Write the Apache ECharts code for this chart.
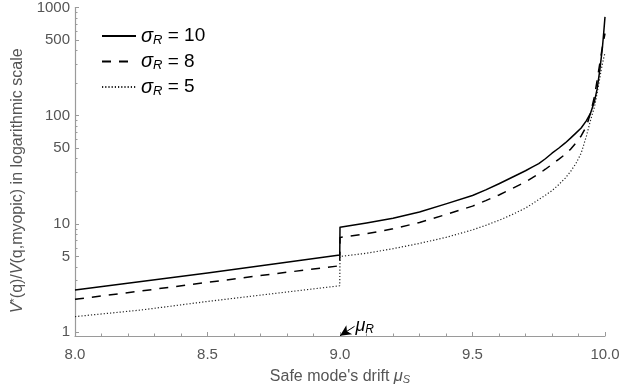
<!DOCTYPE html>
<html><head><meta charset="utf-8">
<script src="https://cdn.jsdelivr.net/npm/echarts@6/dist/echarts.min.js"></script>
<style>html,body{margin:0;padding:0;background:#fff}#c{width:623px;height:390px}</style>
</head><body><div id="c"></div>
<script>
// ---- data ----
const xs = [8.0, 8.25, 8.5, 8.75, 8.999, 9.0, 9.1, 9.2, 9.3, 9.4, 9.5, 9.55, 9.6, 9.65, 9.7, 9.725, 9.75, 9.775, 9.8, 9.825, 9.85, 9.87, 9.89, 9.91, 9.93, 9.945, 9.96, 9.97, 9.98, 9.985, 9.99, 9.995, 10.0];
const ys10 = [2.45, 2.93, 3.52, 4.25, 5.15, 9.3, 10.2, 11.3, 12.9, 15.3, 18.3, 20.6, 23.5, 27, 31, 33.5, 36, 40, 45, 50, 56, 62, 69, 77, 90, 105, 135, 175, 260, 330, 420, 580, 820];
const ys8 = [2.01, 2.40, 2.88, 3.45, 4.1, 7.5, 8.1, 9.0, 10.3, 12.2, 14.6, 16.4, 18.5, 21.2, 24.5, 26.6, 29, 32, 35.5, 39.5, 44, 49, 56, 65, 80, 105, 150, 210, 300, 360, 430, 500, 575];
const ys5 = [1.39, 1.60, 1.92, 2.27, 2.68, 5.0, 5.35, 5.9, 6.6, 7.5, 8.8, 9.7, 10.8, 12.2, 14.0, 15.3, 16.8, 18.4, 20.3, 23, 26.5, 30.5, 36, 45, 65, 90, 120, 160, 220, 260, 300, 340, 380];
const seriesNames = ['σR = 10', 'σR = 8', 'σR = 5'];
const yTickLabels = [1, 5, 10, 50, 100, 500, 1000];
const yMinorTicks = [2,3,4,6,7,8,9,20,30,40,60,70,80,90,200,300,400,600,700,800,900];
const muR = 9.0;

const zip = (a, b) => a.map((v, i) => [v, b[i]]);
const FONT = '"Liberation Sans", Arial, sans-serif';
const chart = echarts.init(document.getElementById('c'), null, {renderer: 'canvas'});
const axisCol = '#9a9a9a', labCol = '#555';

const option = {
  animation: false,
  backgroundColor: '#fff',
  grid: {left: 75, right: 18, top: 7, bottom: 53, containLabel: false},
  legend: {
    orient: 'vertical', left: 96, top: 21, itemWidth: 34, itemHeight: 12, itemGap: 5,
    data: seriesNames,
    itemStyle: {opacity: 0},
    formatter: n => { const p = n.split('R'); return '{s|σ}{r|R}{t|' + p[1] + '}'; },
    textStyle: {fontFamily: FONT, color: '#000', fontSize: 19,
      rich: {s: {fontStyle: 'italic', fontSize: 20, fontFamily: FONT, color: '#000'},
             r: {fontStyle: 'italic', fontSize: 13, verticalAlign: 'bottom', padding: [8,0,0,0], fontFamily: FONT, color: '#000'},
             t: {fontSize: 19, fontFamily: FONT, color: '#000'}}}
  },
  xAxis: {
    type: 'value', min: 8, max: 10, interval: 0.5,
    axisLine: {onZero: false, lineStyle: {color: axisCol, width: 1.2}},
    axisTick: {inside: true, length: 4, lineStyle: {color: axisCol}},
    minorTick: {show: true, splitNumber: 5, length: 2.5, lineStyle: {color: axisCol}},
    splitLine: {show: false},
    axisLabel: {formatter: v => v.toFixed(1), color: labCol, fontSize: 15, fontFamily: FONT, margin: 11},
    name: '{a|Safe mode\'s drift }{m|μ}{s|S}', nameLocation: 'middle', nameGap: 32,
    nameTextStyle: {rich: {a: {fontSize: 16, color: labCol, fontFamily: FONT},
      m: {fontSize: 16.5, fontStyle: 'italic', color: labCol, fontFamily: FONT},
      s: {fontSize: 11, fontStyle: 'italic', color: labCol, fontFamily: FONT, verticalAlign: 'bottom', padding: [6,0,0,0]}}}
  },
  yAxis: [{
    type: 'log', logBase: 10, min: 0.92, max: 1000,
    axisLine: {show: true, lineStyle: {color: axisCol, width: 1.2}},
    axisTick: {inside: true, length: 4, customValues: yTickLabels, lineStyle: {color: axisCol}},
    axisLabel: {customValues: yTickLabels, formatter: v => String(Math.round(v)), color: labCol, fontSize: 15, fontFamily: FONT, margin: 5},
    splitLine: {show: false},
    name: '{v|V}{st|*}{a|(q)/}{v|V}{a|(q,myopic) in logarithmic scale}', nameLocation: 'middle', nameGap: 46,
    nameTextStyle: {padding: [0, 18, 0, 0], rich: {a: {fontSize: 16, color: labCol, fontFamily: FONT},
      v: {fontSize: 16, fontStyle: 'italic', color: labCol, fontFamily: FONT},
      st: {fontSize: 11, color: labCol, fontFamily: FONT, verticalAlign: 'top', padding: [0,0,6,0]}}}
  }, {
    type: 'log', logBase: 10, min: 0.92, max: 1000, position: 'left',
    axisLine: {show: false},
    axisTick: {show: true, inside: true, length: 2.5, customValues: yMinorTicks, lineStyle: {color: axisCol}},
    axisLabel: {show: false}, splitLine: {show: false}
  }],
  series: [
    {name: seriesNames[0], type: 'line', data: zip(xs, ys10), showSymbol: false, symbol: 'none',
     lineStyle: {color: '#000', width: 1.5, type: 'solid', join: 'round'}, itemStyle: {color: '#000'}, z: 5,
     markLine: {silent: true, symbol: ['none', 'arrow'], symbolSize: [8, 11],
       lineStyle: {color: '#000', width: 1, type: 'solid'},
       label: {show: true, position: 'start', formatter: '{m|μ}{r|R}', distance: 1,
         rich: {m: {fontSize: 18, fontStyle: 'italic', color: '#000', fontFamily: FONT},
                r: {fontSize: 12, fontStyle: 'italic', color: '#000', fontFamily: FONT, verticalAlign: 'bottom', padding: [7,0,0,0]}}},
       data: [[{coord: [muR + 0.055, 1.13]}, {coord: [muR, 0.925]}]]}},
    {name: seriesNames[1], type: 'line', data: zip(xs, ys8), showSymbol: false, symbol: 'none',
     lineStyle: {color: '#000', width: 1.5, type: [9, 8]}, itemStyle: {color: '#000'}},
    {name: seriesNames[2], type: 'line', data: zip(xs, ys5), showSymbol: false, symbol: 'none',
     lineStyle: {color: '#222', width: 1.2, type: [1.2, 2]}, itemStyle: {color: '#222'}}
  ]
};
chart.setOption(option);
</script></body></html>
